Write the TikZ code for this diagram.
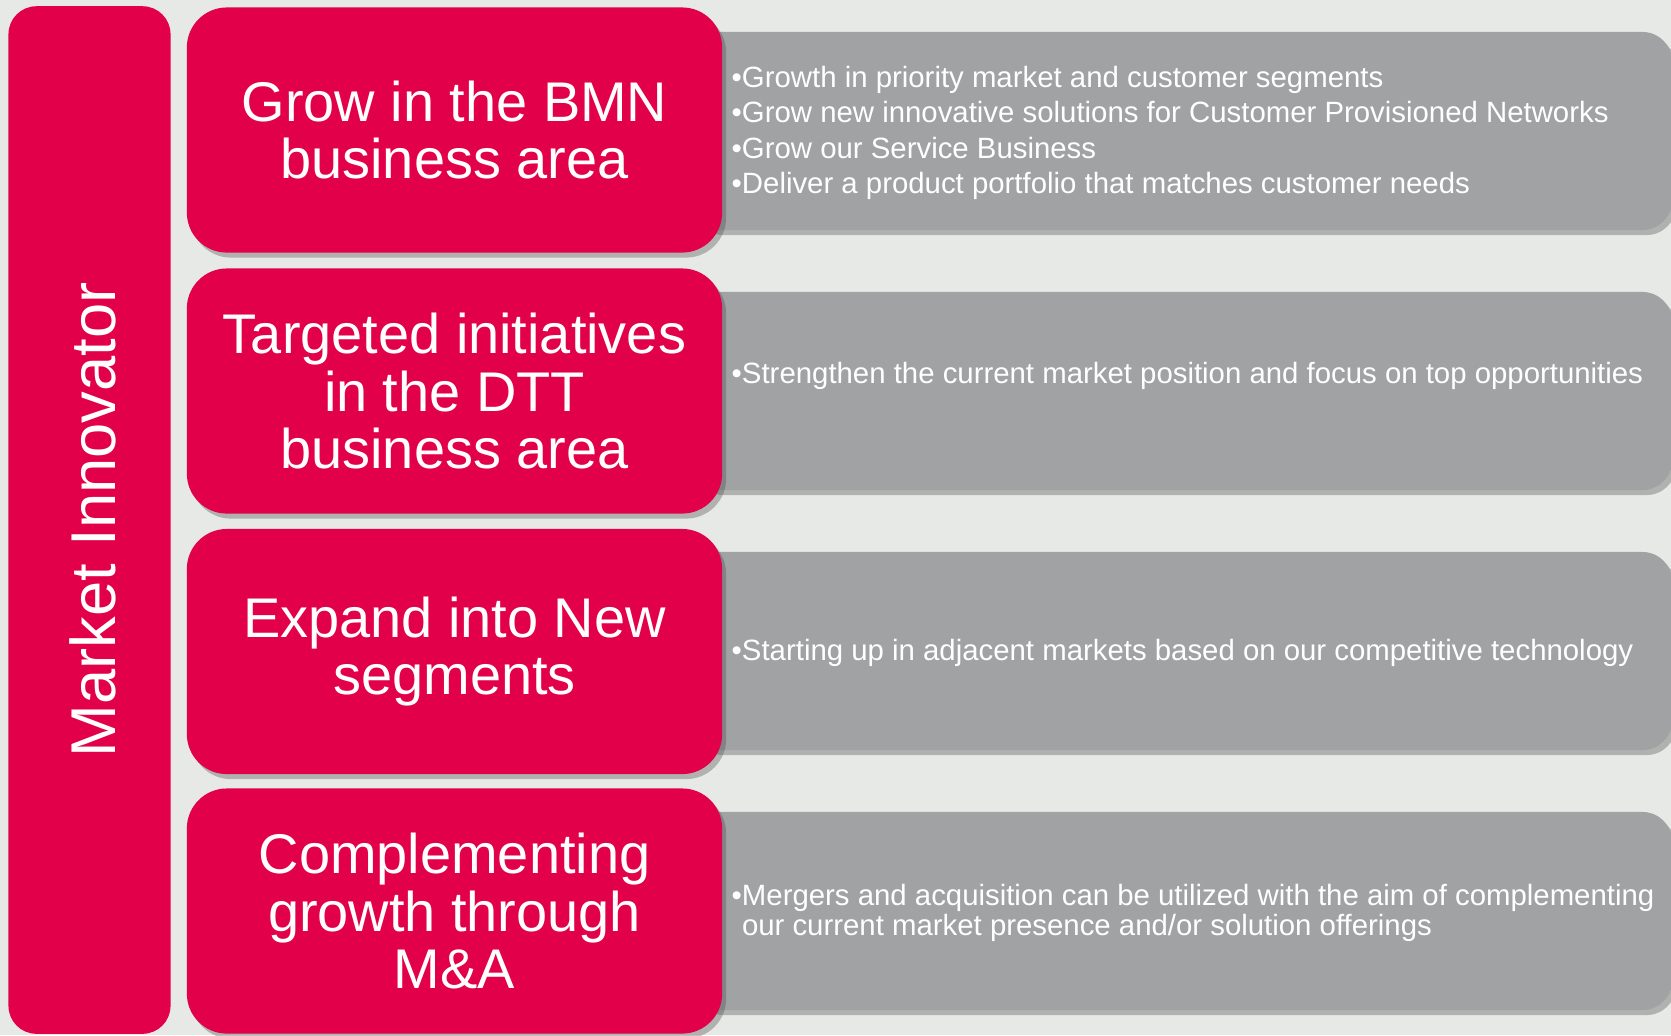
\documentclass[tikz,border=0pt]{standalone}
\usepackage{fontspec}
\setmainfont{Liberation Sans}
\usetikzlibrary{shadows}
\definecolor{bgcol}{RGB}{231,233,230}
\definecolor{goalred}{RGB}{226,0,74}
\definecolor{detailgray}{RGB}{160,162,163}

\begin{document}
\begin{tikzpicture}[x=0.01cm,y=-0.01cm,
  every node/.style={text=white,inner sep=0pt},
  softshadow/.style={drop shadow={shadow xshift=0.04cm,shadow yshift=-0.05cm,opacity=0.35,fill=black!70}},
  sidebar/.style={rectangle,rounded corners=0.28cm,fill=goalred,minimum width=1.62cm,minimum height=10.27cm},
  goalbox/.style={rectangle,rounded corners=0.4cm,fill=goalred,minimum width=5.35cm,minimum height=2.45cm,
    align=center,font=\fontsize{15.9}{16.4}\selectfont,softshadow},
  detailbox/.style={rectangle,rounded corners=0.3cm,fill=detailgray,minimum width=9.82cm,minimum height=1.98cm,softshadow},
  detail/.style={anchor=west,align=left,font=\fontsize{8.35}{10.1}\selectfont}]
\fill[bgcol] (0,0) rectangle (1671,1035);
\useasboundingbox (0,0) rectangle (1671,1035);

% grey panels sit behind the red boxes
\node[detailbox] (d1) at (1181,131) {};
\node[detailbox] (d2) at (1181,391) {};
\node[detailbox] (d3) at (1181,651) {};
\node[detailbox] (d4) at (1181,911) {};

\node[goalbox] (g1) at (454.5,130) {Grow in the BMN\\business area};
\node[goalbox] (g2) at (454.5,391) {Targeted initiatives\\in the DTT\\business area};
\node[goalbox] (g3) at (454.5,651.5) {Expand into New\\segments};
\node[goalbox] (g4) at (454.5,911) {Complementing\\growth through\\M\&A};

\node[detail] (t1) at (731,133) {\textbullet Growth in priority market and customer segments\\
  \textbullet Grow new innovative solutions for Customer Provisioned Networks\\
  \textbullet Grow our Service Business\\
  \textbullet Deliver a product portfolio that matches customer needs};
\node[detail] (t2) at (731,376) {\textbullet Strengthen the current market position and focus on top opportunities};
\node[detail] (t3) at (731,653) {\textbullet Starting up in adjacent markets based on our competitive technology};
\node[detail,font=\fontsize{8.35}{8.5}\selectfont] (t4) at (731,913) {\textbullet Mergers and acquisition can be utilized with the aim of complementing\\
  \phantom{\textbullet}our current market presence and/or solution offerings};

% vertical bar on the left
\node[sidebar] (bar) at (89.5,520) {};
\node[rotate=90,font=\fontsize{18}{18}\selectfont] (barlabel) at ([xshift=0.03cm]bar.center) {Market Innovator};
\end{tikzpicture}
\end{document}
